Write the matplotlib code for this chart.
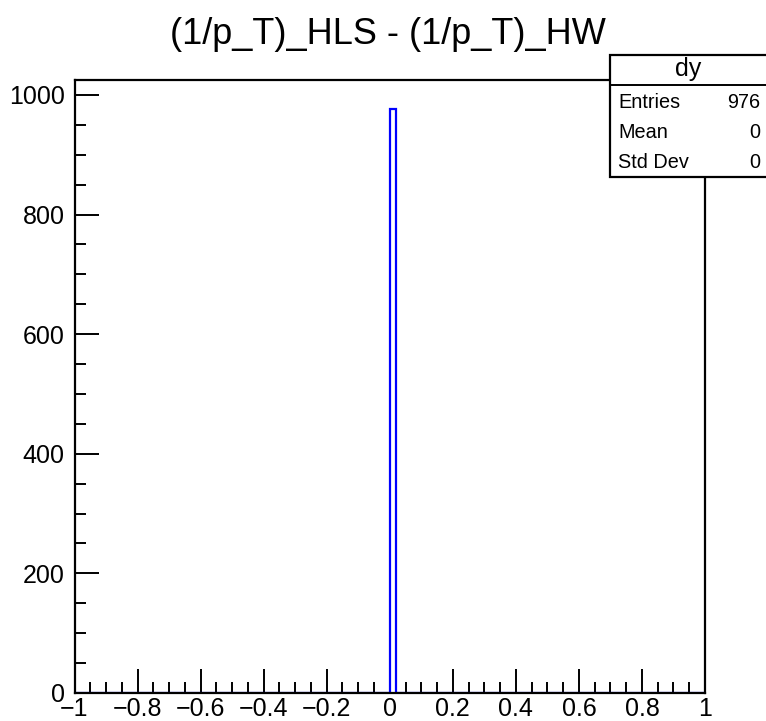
import numpy as np
import matplotlib.pyplot as plt
from matplotlib.patches import Rectangle
from matplotlib.ticker import MultipleLocator

plt.rcParams['font.family'] = ['Liberation Sans', 'DejaVu Sans']

# histogram "dy": 100 bins in [-1, 1], all entries land in the bin [0, 0.02)
n_bins = 100
x_lo, x_hi = -1.0, 1.0
filled_bin = 50
entries = 976
stats_labels = ["Entries", "Mean", "Std Dev"]
stats_values = ["976", "0", "0"]
title = "(1/p_T)_HLS - (1/p_T)_HW"
hist_name = "dy"

edges = np.linspace(x_lo, x_hi, n_bins + 1)
counts = np.zeros(n_bins)
counts[filled_bin] = entries

W, H = 766, 721
fig = plt.figure(figsize=(W / 100, H / 100), dpi=100)
ax = fig.add_axes([74.5 / W, 1 - 693 / H, (705 - 74.5) / W, (693 - 80) / H])

ax.stairs(counts, edges, color='blue', linewidth=1.6, zorder=2)
ax.set_xlim(x_lo, x_hi)
ax.set_ylim(0, 1025)

ax.xaxis.set_major_locator(MultipleLocator(0.2))
ax.xaxis.set_minor_locator(MultipleLocator(0.05))
ax.yaxis.set_major_locator(MultipleLocator(200))
ax.yaxis.set_minor_locator(MultipleLocator(50))
ax.tick_params(which='both', direction='in', top=False, right=False,
               width=1.4, labelsize=18)
ax.tick_params(which='major', length=17)
ax.tick_params(which='minor', length=8)
ax.tick_params(axis='y', pad=7)
ax.tick_params(axis='x', pad=3)
xt = np.round(np.arange(x_lo, x_hi + 0.01, 0.2), 1)
ax.set_xticks(xt)
ax.set_xticklabels([f"{v:g}".replace('-', '\u2212') if v != 0 else "0" for v in xt])
for s in ax.spines.values():
    s.set_linewidth(1.6)
    s.set_zorder(3)

fig.text(388 / W, 1 - 35 / H, title, ha='center', va='center', fontsize=26)

# stats box
bx0, bx1 = 610, 766
by0, by_head, by1 = 55, 85, 177
fig.patches.append(Rectangle((bx0 / W, 1 - by1 / H), (bx1 - bx0 + 5) / W,
                             (by1 - by0) / H, transform=fig.transFigure,
                             facecolor='white', edgecolor='black', lw=1.6, zorder=5))
fig.add_artist(plt.Line2D([bx0 / W, 1], [1 - by_head / H] * 2,
                          transform=fig.transFigure, color='black', lw=1.4, zorder=6))
fig.text((bx0 + bx1) / 2 / W, 1 - 69 / H, hist_name, ha='center', va='center',
         fontsize=18, zorder=7)
for i, (lab, val) in enumerate(zip(stats_labels, stats_values)):
    y = 102 + i * 30.5
    fig.text(618 / W, 1 - y / H, lab, ha='left', va='center', fontsize=14.3, zorder=7)
    fig.text(760 / W, 1 - y / H, val, ha='right', va='center', fontsize=14.3, zorder=7)

fig.savefig("out.png", dpi=100)
